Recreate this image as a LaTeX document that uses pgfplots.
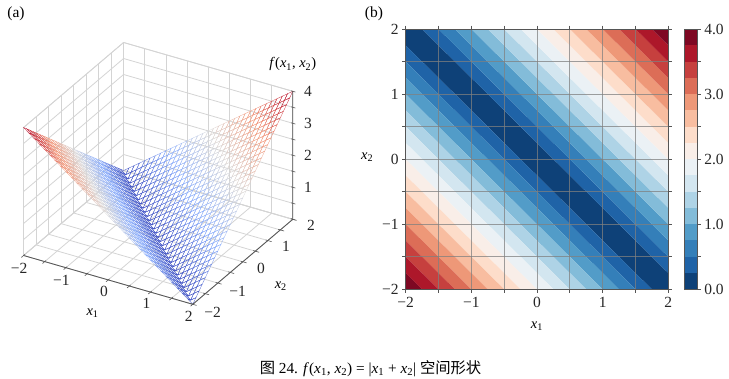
\documentclass[border=0pt]{standalone}
\usepackage{pgfplots}
\pgfplotsset{compat=1.18}
\usepackage{fontspec}
\setmainfont{Liberation Serif}
\newfontfamily\cjk{Noto Sans CJK SC}
\newcommand\xa{\textit{x}\textsubscript{1}}
\newcommand\xb{\textit{x}\textsubscript{2}}
\definecolor{axd}{HTML}{555555}
\definecolor{c0}{RGB}{14,65,120}
\definecolor{c1}{RGB}{31,99,167}
\definecolor{c2}{RGB}{52,127,185}
\definecolor{c3}{RGB}{82,156,200}
\definecolor{c4}{RGB}{131,188,217}
\definecolor{c5}{RGB}{174,211,230}
\definecolor{c6}{RGB}{211,230,240}
\definecolor{c7}{RGB}{235,241,245}
\definecolor{c8}{RGB}{249,238,232}
\definecolor{c9}{RGB}{253,221,202}
\definecolor{c10}{RGB}{248,189,160}
\definecolor{c11}{RGB}{238,152,120}
\definecolor{c12}{RGB}{220,109,87}
\definecolor{c13}{RGB}{198,64,62}
\definecolor{c14}{RGB}{173,23,42}
\definecolor{c15}{RGB}{126,8,35}
\begin{document}
\begin{tikzpicture}[x=1pt,y=1pt]
\path[use as bounding box] (0,0) rectangle (729,378);
\begin{axis}[
 at={(158.2pt,140.6pt)},anchor=origin,
 x={(42.3pt,-12.2pt)},y={(25pt,21.25pt)},z={(0pt,32pt)},
 xmin=-2,xmax=2,ymin=-2,ymax=2,zmin=0,zmax=4,
 xtick={-2,-1.5,...,2},ytick={-2,-1.5,...,2},ztick={0,0.5,...,4},
 xticklabels={−2,,−1,,0,,1,,2},yticklabels={−2,,−1,,0,,1,,2},zticklabels={,,1,,2,,3,,4},
 xtick pos=left,ytick pos=left,ztick pos=right,
 zticklabel pos=right,
 grid=major,grid style={color=black!17,line width=.8pt},
 axis line style={color=black!17,line width=.8pt},
 tick style={draw=none},major tick length=3.5pt,tick align=outside,
 tick label style={font=\fontsize{15.5}{15.5}\selectfont,color=black!85},
 xticklabel style={xshift=3pt},
 yticklabel style={xshift=8pt,yshift=4pt},
 zticklabel style={xshift=5pt,yshift=-4pt},
 xlabel={\xa},ylabel={\xb},zlabel={\textit{f}(\xa, \xb)},
 every axis x label/.style={at={(axis cs:-0.3,-2,0)},anchor=center,yshift=-37pt,xshift=-3pt,font=\fontsize{14.5}{14.5}\selectfont},
 every axis y label/.style={at={(axis cs:2,0,0)},anchor=center,xshift=38pt,yshift=-24pt,font=\fontsize{14.5}{14.5}\selectfont},
 every axis z label/.style={at={(axis cs:2,2,4)},anchor=center,yshift=27pt,font=\fontsize{14.5}{14.5}\selectfont},
 colormap={coolwarm}{rgb255=(59,76,192) rgb255=(139,174,253) rgb255=(221,220,220) rgb255=(244,152,122) rgb255=(180,4,38)},
 clip=false,
]
\addplot3[mesh,mesh/rows=33,mesh/cols=33,point meta=z,line width=.3pt,forget plot] table {
-2 -2 4
-1.875 -2 3.875
-1.75 -2 3.75
-1.625 -2 3.625
-1.5 -2 3.5
-1.375 -2 3.375
-1.25 -2 3.25
-1.125 -2 3.125
-1 -2 3
-0.875 -2 2.875
-0.75 -2 2.75
-0.625 -2 2.625
-0.5 -2 2.5
-0.375 -2 2.375
-0.25 -2 2.25
-0.125 -2 2.125
0 -2 2
0.125 -2 1.875
0.25 -2 1.75
0.375 -2 1.625
0.5 -2 1.5
0.625 -2 1.375
0.75 -2 1.25
0.875 -2 1.125
1 -2 1
1.125 -2 0.875
1.25 -2 0.75
1.375 -2 0.625
1.5 -2 0.5
1.625 -2 0.375
1.75 -2 0.25
1.875 -2 0.125
2 -2 0
-2 -1.875 3.875
-1.875 -1.875 3.75
-1.75 -1.875 3.625
-1.625 -1.875 3.5
-1.5 -1.875 3.375
-1.375 -1.875 3.25
-1.25 -1.875 3.125
-1.125 -1.875 3
-1 -1.875 2.875
-0.875 -1.875 2.75
-0.75 -1.875 2.625
-0.625 -1.875 2.5
-0.5 -1.875 2.375
-0.375 -1.875 2.25
-0.25 -1.875 2.125
-0.125 -1.875 2
0 -1.875 1.875
0.125 -1.875 1.75
0.25 -1.875 1.625
0.375 -1.875 1.5
0.5 -1.875 1.375
0.625 -1.875 1.25
0.75 -1.875 1.125
0.875 -1.875 1
1 -1.875 0.875
1.125 -1.875 0.75
1.25 -1.875 0.625
1.375 -1.875 0.5
1.5 -1.875 0.375
1.625 -1.875 0.25
1.75 -1.875 0.125
1.875 -1.875 0
2 -1.875 0.125
-2 -1.75 3.75
-1.875 -1.75 3.625
-1.75 -1.75 3.5
-1.625 -1.75 3.375
-1.5 -1.75 3.25
-1.375 -1.75 3.125
-1.25 -1.75 3
-1.125 -1.75 2.875
-1 -1.75 2.75
-0.875 -1.75 2.625
-0.75 -1.75 2.5
-0.625 -1.75 2.375
-0.5 -1.75 2.25
-0.375 -1.75 2.125
-0.25 -1.75 2
-0.125 -1.75 1.875
0 -1.75 1.75
0.125 -1.75 1.625
0.25 -1.75 1.5
0.375 -1.75 1.375
0.5 -1.75 1.25
0.625 -1.75 1.125
0.75 -1.75 1
0.875 -1.75 0.875
1 -1.75 0.75
1.125 -1.75 0.625
1.25 -1.75 0.5
1.375 -1.75 0.375
1.5 -1.75 0.25
1.625 -1.75 0.125
1.75 -1.75 0
1.875 -1.75 0.125
2 -1.75 0.25
-2 -1.625 3.625
-1.875 -1.625 3.5
-1.75 -1.625 3.375
-1.625 -1.625 3.25
-1.5 -1.625 3.125
-1.375 -1.625 3
-1.25 -1.625 2.875
-1.125 -1.625 2.75
-1 -1.625 2.625
-0.875 -1.625 2.5
-0.75 -1.625 2.375
-0.625 -1.625 2.25
-0.5 -1.625 2.125
-0.375 -1.625 2
-0.25 -1.625 1.875
-0.125 -1.625 1.75
0 -1.625 1.625
0.125 -1.625 1.5
0.25 -1.625 1.375
0.375 -1.625 1.25
0.5 -1.625 1.125
0.625 -1.625 1
0.75 -1.625 0.875
0.875 -1.625 0.75
1 -1.625 0.625
1.125 -1.625 0.5
1.25 -1.625 0.375
1.375 -1.625 0.25
1.5 -1.625 0.125
1.625 -1.625 0
1.75 -1.625 0.125
1.875 -1.625 0.25
2 -1.625 0.375
-2 -1.5 3.5
-1.875 -1.5 3.375
-1.75 -1.5 3.25
-1.625 -1.5 3.125
-1.5 -1.5 3
-1.375 -1.5 2.875
-1.25 -1.5 2.75
-1.125 -1.5 2.625
-1 -1.5 2.5
-0.875 -1.5 2.375
-0.75 -1.5 2.25
-0.625 -1.5 2.125
-0.5 -1.5 2
-0.375 -1.5 1.875
-0.25 -1.5 1.75
-0.125 -1.5 1.625
0 -1.5 1.5
0.125 -1.5 1.375
0.25 -1.5 1.25
0.375 -1.5 1.125
0.5 -1.5 1
0.625 -1.5 0.875
0.75 -1.5 0.75
0.875 -1.5 0.625
1 -1.5 0.5
1.125 -1.5 0.375
1.25 -1.5 0.25
1.375 -1.5 0.125
1.5 -1.5 0
1.625 -1.5 0.125
1.75 -1.5 0.25
1.875 -1.5 0.375
2 -1.5 0.5
-2 -1.375 3.375
-1.875 -1.375 3.25
-1.75 -1.375 3.125
-1.625 -1.375 3
-1.5 -1.375 2.875
-1.375 -1.375 2.75
-1.25 -1.375 2.625
-1.125 -1.375 2.5
-1 -1.375 2.375
-0.875 -1.375 2.25
-0.75 -1.375 2.125
-0.625 -1.375 2
-0.5 -1.375 1.875
-0.375 -1.375 1.75
-0.25 -1.375 1.625
-0.125 -1.375 1.5
0 -1.375 1.375
0.125 -1.375 1.25
0.25 -1.375 1.125
0.375 -1.375 1
0.5 -1.375 0.875
0.625 -1.375 0.75
0.75 -1.375 0.625
0.875 -1.375 0.5
1 -1.375 0.375
1.125 -1.375 0.25
1.25 -1.375 0.125
1.375 -1.375 0
1.5 -1.375 0.125
1.625 -1.375 0.25
1.75 -1.375 0.375
1.875 -1.375 0.5
2 -1.375 0.625
-2 -1.25 3.25
-1.875 -1.25 3.125
-1.75 -1.25 3
-1.625 -1.25 2.875
-1.5 -1.25 2.75
-1.375 -1.25 2.625
-1.25 -1.25 2.5
-1.125 -1.25 2.375
-1 -1.25 2.25
-0.875 -1.25 2.125
-0.75 -1.25 2
-0.625 -1.25 1.875
-0.5 -1.25 1.75
-0.375 -1.25 1.625
-0.25 -1.25 1.5
-0.125 -1.25 1.375
0 -1.25 1.25
0.125 -1.25 1.125
0.25 -1.25 1
0.375 -1.25 0.875
0.5 -1.25 0.75
0.625 -1.25 0.625
0.75 -1.25 0.5
0.875 -1.25 0.375
1 -1.25 0.25
1.125 -1.25 0.125
1.25 -1.25 0
1.375 -1.25 0.125
1.5 -1.25 0.25
1.625 -1.25 0.375
1.75 -1.25 0.5
1.875 -1.25 0.625
2 -1.25 0.75
-2 -1.125 3.125
-1.875 -1.125 3
-1.75 -1.125 2.875
-1.625 -1.125 2.75
-1.5 -1.125 2.625
-1.375 -1.125 2.5
-1.25 -1.125 2.375
-1.125 -1.125 2.25
-1 -1.125 2.125
-0.875 -1.125 2
-0.75 -1.125 1.875
-0.625 -1.125 1.75
-0.5 -1.125 1.625
-0.375 -1.125 1.5
-0.25 -1.125 1.375
-0.125 -1.125 1.25
0 -1.125 1.125
0.125 -1.125 1
0.25 -1.125 0.875
0.375 -1.125 0.75
0.5 -1.125 0.625
0.625 -1.125 0.5
0.75 -1.125 0.375
0.875 -1.125 0.25
1 -1.125 0.125
1.125 -1.125 0
1.25 -1.125 0.125
1.375 -1.125 0.25
1.5 -1.125 0.375
1.625 -1.125 0.5
1.75 -1.125 0.625
1.875 -1.125 0.75
2 -1.125 0.875
-2 -1 3
-1.875 -1 2.875
-1.75 -1 2.75
-1.625 -1 2.625
-1.5 -1 2.5
-1.375 -1 2.375
-1.25 -1 2.25
-1.125 -1 2.125
-1 -1 2
-0.875 -1 1.875
-0.75 -1 1.75
-0.625 -1 1.625
-0.5 -1 1.5
-0.375 -1 1.375
-0.25 -1 1.25
-0.125 -1 1.125
0 -1 1
0.125 -1 0.875
0.25 -1 0.75
0.375 -1 0.625
0.5 -1 0.5
0.625 -1 0.375
0.75 -1 0.25
0.875 -1 0.125
1 -1 0
1.125 -1 0.125
1.25 -1 0.25
1.375 -1 0.375
1.5 -1 0.5
1.625 -1 0.625
1.75 -1 0.75
1.875 -1 0.875
2 -1 1
-2 -0.875 2.875
-1.875 -0.875 2.75
-1.75 -0.875 2.625
-1.625 -0.875 2.5
-1.5 -0.875 2.375
-1.375 -0.875 2.25
-1.25 -0.875 2.125
-1.125 -0.875 2
-1 -0.875 1.875
-0.875 -0.875 1.75
-0.75 -0.875 1.625
-0.625 -0.875 1.5
-0.5 -0.875 1.375
-0.375 -0.875 1.25
-0.25 -0.875 1.125
-0.125 -0.875 1
0 -0.875 0.875
0.125 -0.875 0.75
0.25 -0.875 0.625
0.375 -0.875 0.5
0.5 -0.875 0.375
0.625 -0.875 0.25
0.75 -0.875 0.125
0.875 -0.875 0
1 -0.875 0.125
1.125 -0.875 0.25
1.25 -0.875 0.375
1.375 -0.875 0.5
1.5 -0.875 0.625
1.625 -0.875 0.75
1.75 -0.875 0.875
1.875 -0.875 1
2 -0.875 1.125
-2 -0.75 2.75
-1.875 -0.75 2.625
-1.75 -0.75 2.5
-1.625 -0.75 2.375
-1.5 -0.75 2.25
-1.375 -0.75 2.125
-1.25 -0.75 2
-1.125 -0.75 1.875
-1 -0.75 1.75
-0.875 -0.75 1.625
-0.75 -0.75 1.5
-0.625 -0.75 1.375
-0.5 -0.75 1.25
-0.375 -0.75 1.125
-0.25 -0.75 1
-0.125 -0.75 0.875
0 -0.75 0.75
0.125 -0.75 0.625
0.25 -0.75 0.5
0.375 -0.75 0.375
0.5 -0.75 0.25
0.625 -0.75 0.125
0.75 -0.75 0
0.875 -0.75 0.125
1 -0.75 0.25
1.125 -0.75 0.375
1.25 -0.75 0.5
1.375 -0.75 0.625
1.5 -0.75 0.75
1.625 -0.75 0.875
1.75 -0.75 1
1.875 -0.75 1.125
2 -0.75 1.25
-2 -0.625 2.625
-1.875 -0.625 2.5
-1.75 -0.625 2.375
-1.625 -0.625 2.25
-1.5 -0.625 2.125
-1.375 -0.625 2
-1.25 -0.625 1.875
-1.125 -0.625 1.75
-1 -0.625 1.625
-0.875 -0.625 1.5
-0.75 -0.625 1.375
-0.625 -0.625 1.25
-0.5 -0.625 1.125
-0.375 -0.625 1
-0.25 -0.625 0.875
-0.125 -0.625 0.75
0 -0.625 0.625
0.125 -0.625 0.5
0.25 -0.625 0.375
0.375 -0.625 0.25
0.5 -0.625 0.125
0.625 -0.625 0
0.75 -0.625 0.125
0.875 -0.625 0.25
1 -0.625 0.375
1.125 -0.625 0.5
1.25 -0.625 0.625
1.375 -0.625 0.75
1.5 -0.625 0.875
1.625 -0.625 1
1.75 -0.625 1.125
1.875 -0.625 1.25
2 -0.625 1.375
-2 -0.5 2.5
-1.875 -0.5 2.375
-1.75 -0.5 2.25
-1.625 -0.5 2.125
-1.5 -0.5 2
-1.375 -0.5 1.875
-1.25 -0.5 1.75
-1.125 -0.5 1.625
-1 -0.5 1.5
-0.875 -0.5 1.375
-0.75 -0.5 1.25
-0.625 -0.5 1.125
-0.5 -0.5 1
-0.375 -0.5 0.875
-0.25 -0.5 0.75
-0.125 -0.5 0.625
0 -0.5 0.5
0.125 -0.5 0.375
0.25 -0.5 0.25
0.375 -0.5 0.125
0.5 -0.5 0
0.625 -0.5 0.125
0.75 -0.5 0.25
0.875 -0.5 0.375
1 -0.5 0.5
1.125 -0.5 0.625
1.25 -0.5 0.75
1.375 -0.5 0.875
1.5 -0.5 1
1.625 -0.5 1.125
1.75 -0.5 1.25
1.875 -0.5 1.375
2 -0.5 1.5
-2 -0.375 2.375
-1.875 -0.375 2.25
-1.75 -0.375 2.125
-1.625 -0.375 2
-1.5 -0.375 1.875
-1.375 -0.375 1.75
-1.25 -0.375 1.625
-1.125 -0.375 1.5
-1 -0.375 1.375
-0.875 -0.375 1.25
-0.75 -0.375 1.125
-0.625 -0.375 1
-0.5 -0.375 0.875
-0.375 -0.375 0.75
-0.25 -0.375 0.625
-0.125 -0.375 0.5
0 -0.375 0.375
0.125 -0.375 0.25
0.25 -0.375 0.125
0.375 -0.375 0
0.5 -0.375 0.125
0.625 -0.375 0.25
0.75 -0.375 0.375
0.875 -0.375 0.5
1 -0.375 0.625
1.125 -0.375 0.75
1.25 -0.375 0.875
1.375 -0.375 1
1.5 -0.375 1.125
1.625 -0.375 1.25
1.75 -0.375 1.375
1.875 -0.375 1.5
2 -0.375 1.625
-2 -0.25 2.25
-1.875 -0.25 2.125
-1.75 -0.25 2
-1.625 -0.25 1.875
-1.5 -0.25 1.75
-1.375 -0.25 1.625
-1.25 -0.25 1.5
-1.125 -0.25 1.375
-1 -0.25 1.25
-0.875 -0.25 1.125
-0.75 -0.25 1
-0.625 -0.25 0.875
-0.5 -0.25 0.75
-0.375 -0.25 0.625
-0.25 -0.25 0.5
-0.125 -0.25 0.375
0 -0.25 0.25
0.125 -0.25 0.125
0.25 -0.25 0
0.375 -0.25 0.125
0.5 -0.25 0.25
0.625 -0.25 0.375
0.75 -0.25 0.5
0.875 -0.25 0.625
1 -0.25 0.75
1.125 -0.25 0.875
1.25 -0.25 1
1.375 -0.25 1.125
1.5 -0.25 1.25
1.625 -0.25 1.375
1.75 -0.25 1.5
1.875 -0.25 1.625
2 -0.25 1.75
-2 -0.125 2.125
-1.875 -0.125 2
-1.75 -0.125 1.875
-1.625 -0.125 1.75
-1.5 -0.125 1.625
-1.375 -0.125 1.5
-1.25 -0.125 1.375
-1.125 -0.125 1.25
-1 -0.125 1.125
-0.875 -0.125 1
-0.75 -0.125 0.875
-0.625 -0.125 0.75
-0.5 -0.125 0.625
-0.375 -0.125 0.5
-0.25 -0.125 0.375
-0.125 -0.125 0.25
0 -0.125 0.125
0.125 -0.125 0
0.25 -0.125 0.125
0.375 -0.125 0.25
0.5 -0.125 0.375
0.625 -0.125 0.5
0.75 -0.125 0.625
0.875 -0.125 0.75
1 -0.125 0.875
1.125 -0.125 1
1.25 -0.125 1.125
1.375 -0.125 1.25
1.5 -0.125 1.375
1.625 -0.125 1.5
1.75 -0.125 1.625
1.875 -0.125 1.75
2 -0.125 1.875
-2 0 2
-1.875 0 1.875
-1.75 0 1.75
-1.625 0 1.625
-1.5 0 1.5
-1.375 0 1.375
-1.25 0 1.25
-1.125 0 1.125
-1 0 1
-0.875 0 0.875
-0.75 0 0.75
-0.625 0 0.625
-0.5 0 0.5
-0.375 0 0.375
-0.25 0 0.25
-0.125 0 0.125
0 0 0
0.125 0 0.125
0.25 0 0.25
0.375 0 0.375
0.5 0 0.5
0.625 0 0.625
0.75 0 0.75
0.875 0 0.875
1 0 1
1.125 0 1.125
1.25 0 1.25
1.375 0 1.375
1.5 0 1.5
1.625 0 1.625
1.75 0 1.75
1.875 0 1.875
2 0 2
-2 0.125 1.875
-1.875 0.125 1.75
-1.75 0.125 1.625
-1.625 0.125 1.5
-1.5 0.125 1.375
-1.375 0.125 1.25
-1.25 0.125 1.125
-1.125 0.125 1
-1 0.125 0.875
-0.875 0.125 0.75
-0.75 0.125 0.625
-0.625 0.125 0.5
-0.5 0.125 0.375
-0.375 0.125 0.25
-0.25 0.125 0.125
-0.125 0.125 0
0 0.125 0.125
0.125 0.125 0.25
0.25 0.125 0.375
0.375 0.125 0.5
0.5 0.125 0.625
0.625 0.125 0.75
0.75 0.125 0.875
0.875 0.125 1
1 0.125 1.125
1.125 0.125 1.25
1.25 0.125 1.375
1.375 0.125 1.5
1.5 0.125 1.625
1.625 0.125 1.75
1.75 0.125 1.875
1.875 0.125 2
2 0.125 2.125
-2 0.25 1.75
-1.875 0.25 1.625
-1.75 0.25 1.5
-1.625 0.25 1.375
-1.5 0.25 1.25
-1.375 0.25 1.125
-1.25 0.25 1
-1.125 0.25 0.875
-1 0.25 0.75
-0.875 0.25 0.625
-0.75 0.25 0.5
-0.625 0.25 0.375
-0.5 0.25 0.25
-0.375 0.25 0.125
-0.25 0.25 0
-0.125 0.25 0.125
0 0.25 0.25
0.125 0.25 0.375
0.25 0.25 0.5
0.375 0.25 0.625
0.5 0.25 0.75
0.625 0.25 0.875
0.75 0.25 1
0.875 0.25 1.125
1 0.25 1.25
1.125 0.25 1.375
1.25 0.25 1.5
1.375 0.25 1.625
1.5 0.25 1.75
1.625 0.25 1.875
1.75 0.25 2
1.875 0.25 2.125
2 0.25 2.25
-2 0.375 1.625
-1.875 0.375 1.5
-1.75 0.375 1.375
-1.625 0.375 1.25
-1.5 0.375 1.125
-1.375 0.375 1
-1.25 0.375 0.875
-1.125 0.375 0.75
-1 0.375 0.625
-0.875 0.375 0.5
-0.75 0.375 0.375
-0.625 0.375 0.25
-0.5 0.375 0.125
-0.375 0.375 0
-0.25 0.375 0.125
-0.125 0.375 0.25
0 0.375 0.375
0.125 0.375 0.5
0.25 0.375 0.625
0.375 0.375 0.75
0.5 0.375 0.875
0.625 0.375 1
0.75 0.375 1.125
0.875 0.375 1.25
1 0.375 1.375
1.125 0.375 1.5
1.25 0.375 1.625
1.375 0.375 1.75
1.5 0.375 1.875
1.625 0.375 2
1.75 0.375 2.125
1.875 0.375 2.25
2 0.375 2.375
-2 0.5 1.5
-1.875 0.5 1.375
-1.75 0.5 1.25
-1.625 0.5 1.125
-1.5 0.5 1
-1.375 0.5 0.875
-1.25 0.5 0.75
-1.125 0.5 0.625
-1 0.5 0.5
-0.875 0.5 0.375
-0.75 0.5 0.25
-0.625 0.5 0.125
-0.5 0.5 0
-0.375 0.5 0.125
-0.25 0.5 0.25
-0.125 0.5 0.375
0 0.5 0.5
0.125 0.5 0.625
0.25 0.5 0.75
0.375 0.5 0.875
0.5 0.5 1
0.625 0.5 1.125
0.75 0.5 1.25
0.875 0.5 1.375
1 0.5 1.5
1.125 0.5 1.625
1.25 0.5 1.75
1.375 0.5 1.875
1.5 0.5 2
1.625 0.5 2.125
1.75 0.5 2.25
1.875 0.5 2.375
2 0.5 2.5
-2 0.625 1.375
-1.875 0.625 1.25
-1.75 0.625 1.125
-1.625 0.625 1
-1.5 0.625 0.875
-1.375 0.625 0.75
-1.25 0.625 0.625
-1.125 0.625 0.5
-1 0.625 0.375
-0.875 0.625 0.25
-0.75 0.625 0.125
-0.625 0.625 0
-0.5 0.625 0.125
-0.375 0.625 0.25
-0.25 0.625 0.375
-0.125 0.625 0.5
0 0.625 0.625
0.125 0.625 0.75
0.25 0.625 0.875
0.375 0.625 1
0.5 0.625 1.125
0.625 0.625 1.25
0.75 0.625 1.375
0.875 0.625 1.5
1 0.625 1.625
1.125 0.625 1.75
1.25 0.625 1.875
1.375 0.625 2
1.5 0.625 2.125
1.625 0.625 2.25
1.75 0.625 2.375
1.875 0.625 2.5
2 0.625 2.625
-2 0.75 1.25
-1.875 0.75 1.125
-1.75 0.75 1
-1.625 0.75 0.875
-1.5 0.75 0.75
-1.375 0.75 0.625
-1.25 0.75 0.5
-1.125 0.75 0.375
-1 0.75 0.25
-0.875 0.75 0.125
-0.75 0.75 0
-0.625 0.75 0.125
-0.5 0.75 0.25
-0.375 0.75 0.375
-0.25 0.75 0.5
-0.125 0.75 0.625
0 0.75 0.75
0.125 0.75 0.875
0.25 0.75 1
0.375 0.75 1.125
0.5 0.75 1.25
0.625 0.75 1.375
0.75 0.75 1.5
0.875 0.75 1.625
1 0.75 1.75
1.125 0.75 1.875
1.25 0.75 2
1.375 0.75 2.125
1.5 0.75 2.25
1.625 0.75 2.375
1.75 0.75 2.5
1.875 0.75 2.625
2 0.75 2.75
-2 0.875 1.125
-1.875 0.875 1
-1.75 0.875 0.875
-1.625 0.875 0.75
-1.5 0.875 0.625
-1.375 0.875 0.5
-1.25 0.875 0.375
-1.125 0.875 0.25
-1 0.875 0.125
-0.875 0.875 0
-0.75 0.875 0.125
-0.625 0.875 0.25
-0.5 0.875 0.375
-0.375 0.875 0.5
-0.25 0.875 0.625
-0.125 0.875 0.75
0 0.875 0.875
0.125 0.875 1
0.25 0.875 1.125
0.375 0.875 1.25
0.5 0.875 1.375
0.625 0.875 1.5
0.75 0.875 1.625
0.875 0.875 1.75
1 0.875 1.875
1.125 0.875 2
1.25 0.875 2.125
1.375 0.875 2.25
1.5 0.875 2.375
1.625 0.875 2.5
1.75 0.875 2.625
1.875 0.875 2.75
2 0.875 2.875
-2 1 1
-1.875 1 0.875
-1.75 1 0.75
-1.625 1 0.625
-1.5 1 0.5
-1.375 1 0.375
-1.25 1 0.25
-1.125 1 0.125
-1 1 0
-0.875 1 0.125
-0.75 1 0.25
-0.625 1 0.375
-0.5 1 0.5
-0.375 1 0.625
-0.25 1 0.75
-0.125 1 0.875
0 1 1
0.125 1 1.125
0.25 1 1.25
0.375 1 1.375
0.5 1 1.5
0.625 1 1.625
0.75 1 1.75
0.875 1 1.875
1 1 2
1.125 1 2.125
1.25 1 2.25
1.375 1 2.375
1.5 1 2.5
1.625 1 2.625
1.75 1 2.75
1.875 1 2.875
2 1 3
-2 1.125 0.875
-1.875 1.125 0.75
-1.75 1.125 0.625
-1.625 1.125 0.5
-1.5 1.125 0.375
-1.375 1.125 0.25
-1.25 1.125 0.125
-1.125 1.125 0
-1 1.125 0.125
-0.875 1.125 0.25
-0.75 1.125 0.375
-0.625 1.125 0.5
-0.5 1.125 0.625
-0.375 1.125 0.75
-0.25 1.125 0.875
-0.125 1.125 1
0 1.125 1.125
0.125 1.125 1.25
0.25 1.125 1.375
0.375 1.125 1.5
0.5 1.125 1.625
0.625 1.125 1.75
0.75 1.125 1.875
0.875 1.125 2
1 1.125 2.125
1.125 1.125 2.25
1.25 1.125 2.375
1.375 1.125 2.5
1.5 1.125 2.625
1.625 1.125 2.75
1.75 1.125 2.875
1.875 1.125 3
2 1.125 3.125
-2 1.25 0.75
-1.875 1.25 0.625
-1.75 1.25 0.5
-1.625 1.25 0.375
-1.5 1.25 0.25
-1.375 1.25 0.125
-1.25 1.25 0
-1.125 1.25 0.125
-1 1.25 0.25
-0.875 1.25 0.375
-0.75 1.25 0.5
-0.625 1.25 0.625
-0.5 1.25 0.75
-0.375 1.25 0.875
-0.25 1.25 1
-0.125 1.25 1.125
0 1.25 1.25
0.125 1.25 1.375
0.25 1.25 1.5
0.375 1.25 1.625
0.5 1.25 1.75
0.625 1.25 1.875
0.75 1.25 2
0.875 1.25 2.125
1 1.25 2.25
1.125 1.25 2.375
1.25 1.25 2.5
1.375 1.25 2.625
1.5 1.25 2.75
1.625 1.25 2.875
1.75 1.25 3
1.875 1.25 3.125
2 1.25 3.25
-2 1.375 0.625
-1.875 1.375 0.5
-1.75 1.375 0.375
-1.625 1.375 0.25
-1.5 1.375 0.125
-1.375 1.375 0
-1.25 1.375 0.125
-1.125 1.375 0.25
-1 1.375 0.375
-0.875 1.375 0.5
-0.75 1.375 0.625
-0.625 1.375 0.75
-0.5 1.375 0.875
-0.375 1.375 1
-0.25 1.375 1.125
-0.125 1.375 1.25
0 1.375 1.375
0.125 1.375 1.5
0.25 1.375 1.625
0.375 1.375 1.75
0.5 1.375 1.875
0.625 1.375 2
0.75 1.375 2.125
0.875 1.375 2.25
1 1.375 2.375
1.125 1.375 2.5
1.25 1.375 2.625
1.375 1.375 2.75
1.5 1.375 2.875
1.625 1.375 3
1.75 1.375 3.125
1.875 1.375 3.25
2 1.375 3.375
-2 1.5 0.5
-1.875 1.5 0.375
-1.75 1.5 0.25
-1.625 1.5 0.125
-1.5 1.5 0
-1.375 1.5 0.125
-1.25 1.5 0.25
-1.125 1.5 0.375
-1 1.5 0.5
-0.875 1.5 0.625
-0.75 1.5 0.75
-0.625 1.5 0.875
-0.5 1.5 1
-0.375 1.5 1.125
-0.25 1.5 1.25
-0.125 1.5 1.375
0 1.5 1.5
0.125 1.5 1.625
0.25 1.5 1.75
0.375 1.5 1.875
0.5 1.5 2
0.625 1.5 2.125
0.75 1.5 2.25
0.875 1.5 2.375
1 1.5 2.5
1.125 1.5 2.625
1.25 1.5 2.75
1.375 1.5 2.875
1.5 1.5 3
1.625 1.5 3.125
1.75 1.5 3.25
1.875 1.5 3.375
2 1.5 3.5
-2 1.625 0.375
-1.875 1.625 0.25
-1.75 1.625 0.125
-1.625 1.625 0
-1.5 1.625 0.125
-1.375 1.625 0.25
-1.25 1.625 0.375
-1.125 1.625 0.5
-1 1.625 0.625
-0.875 1.625 0.75
-0.75 1.625 0.875
-0.625 1.625 1
-0.5 1.625 1.125
-0.375 1.625 1.25
-0.25 1.625 1.375
-0.125 1.625 1.5
0 1.625 1.625
0.125 1.625 1.75
0.25 1.625 1.875
0.375 1.625 2
0.5 1.625 2.125
0.625 1.625 2.25
0.75 1.625 2.375
0.875 1.625 2.5
1 1.625 2.625
1.125 1.625 2.75
1.25 1.625 2.875
1.375 1.625 3
1.5 1.625 3.125
1.625 1.625 3.25
1.75 1.625 3.375
1.875 1.625 3.5
2 1.625 3.625
-2 1.75 0.25
-1.875 1.75 0.125
-1.75 1.75 0
-1.625 1.75 0.125
-1.5 1.75 0.25
-1.375 1.75 0.375
-1.25 1.75 0.5
-1.125 1.75 0.625
-1 1.75 0.75
-0.875 1.75 0.875
-0.75 1.75 1
-0.625 1.75 1.125
-0.5 1.75 1.25
-0.375 1.75 1.375
-0.25 1.75 1.5
-0.125 1.75 1.625
0 1.75 1.75
0.125 1.75 1.875
0.25 1.75 2
0.375 1.75 2.125
0.5 1.75 2.25
0.625 1.75 2.375
0.75 1.75 2.5
0.875 1.75 2.625
1 1.75 2.75
1.125 1.75 2.875
1.25 1.75 3
1.375 1.75 3.125
1.5 1.75 3.25
1.625 1.75 3.375
1.75 1.75 3.5
1.875 1.75 3.625
2 1.75 3.75
-2 1.875 0.125
-1.875 1.875 0
-1.75 1.875 0.125
-1.625 1.875 0.25
-1.5 1.875 0.375
-1.375 1.875 0.5
-1.25 1.875 0.625
-1.125 1.875 0.75
-1 1.875 0.875
-0.875 1.875 1
-0.75 1.875 1.125
-0.625 1.875 1.25
-0.5 1.875 1.375
-0.375 1.875 1.5
-0.25 1.875 1.625
-0.125 1.875 1.75
0 1.875 1.875
0.125 1.875 2
0.25 1.875 2.125
0.375 1.875 2.25
0.5 1.875 2.375
0.625 1.875 2.5
0.75 1.875 2.625
0.875 1.875 2.75
1 1.875 2.875
1.125 1.875 3
1.25 1.875 3.125
1.375 1.875 3.25
1.5 1.875 3.375
1.625 1.875 3.5
1.75 1.875 3.625
1.875 1.875 3.75
2 1.875 3.875
-2 2 0
-1.875 2 0.125
-1.75 2 0.25
-1.625 2 0.375
-1.5 2 0.5
-1.375 2 0.625
-1.25 2 0.75
-1.125 2 0.875
-1 2 1
-0.875 2 1.125
-0.75 2 1.25
-0.625 2 1.375
-0.5 2 1.5
-0.375 2 1.625
-0.25 2 1.75
-0.125 2 1.875
0 2 2
0.125 2 2.125
0.25 2 2.25
0.375 2 2.375
0.5 2 2.5
0.625 2 2.625
0.75 2 2.75
0.875 2 2.875
1 2 3
1.125 2 3.125
1.25 2 3.25
1.375 2 3.375
1.5 2 3.5
1.625 2 3.625
1.75 2 3.75
1.875 2 3.875
2 2 4
};
\draw[axd,line width=.8pt] (axis cs:-2,-2,0)--(axis cs:2,-2,0)--(axis cs:2,2,0)--(axis cs:2,2,4);
\pgfplotsinvokeforeach{-2,-1.5,-1,-0.5,0,0.5,1,1.5,2}{
 \draw[axd,line width=.6pt] (axis cs:#1,-2.09,0)--(axis cs:#1,-1.95,0);
 \draw[axd,line width=.6pt] (axis cs:1.95,#1,0)--(axis cs:2.09,#1,0);
}
\pgfplotsinvokeforeach{0,0.5,1,1.5,2,2.5,3,3.5,4}{
 \draw[axd,line width=.6pt] (axis cs:1.96,2,#1)--(axis cs:2.06,2,#1);
}
\end{axis}
\begin{axis}[
 at={(405.6pt,88.7pt)},anchor=south west,scale only axis,width=262.7pt,height=260.3pt,
 xmin=-2,xmax=2,ymin=-2,ymax=2,
 xtick={-2,-1.5,...,2},ytick={-2,-1.5,...,2},
 xticklabels={−2,,−1,,0,,1,,2},yticklabels={−2,,−1,,0,,1,,2},
 axis on top,grid=major,grid style={color=gray,opacity=.75,line width=.8pt},
 axis line style={color=axd,line width=.8pt},
 tick style={color=axd,line width=.6pt},major tick length=3.5pt,tick align=outside,
 tick label style={font=\fontsize{15.5}{15.5}\selectfont,color=black!85},
 xticklabel style={yshift=-1pt},
 xlabel={\xa},ylabel={\xb},
 xlabel style={font=\fontsize{14.5}{14.5}\selectfont,yshift=-7pt},
 ylabel style={font=\fontsize{14.5}{14.5}\selectfont,rotate=-90,xshift=-2pt,yshift=2pt},
]
\addplot[fill=c0,draw=none] coordinates {(-2,1.75)(1.75,-2)(2,-2)(2,-1.75)(-1.75,2)(-2,2)} --cycle;
\addplot[fill=c1,draw=none] coordinates {(-1.75,2)(2,-1.75)(2,-1.5)(-1.5,2)} --cycle;
\addplot[fill=c2,draw=none] coordinates {(-1.5,2)(2,-1.5)(2,-1.25)(-1.25,2)} --cycle;
\addplot[fill=c3,draw=none] coordinates {(-1.25,2)(2,-1.25)(2,-1)(-1,2)} --cycle;
\addplot[fill=c4,draw=none] coordinates {(-1,2)(2,-1)(2,-0.75)(-0.75,2)} --cycle;
\addplot[fill=c5,draw=none] coordinates {(-0.75,2)(2,-0.75)(2,-0.5)(-0.5,2)} --cycle;
\addplot[fill=c6,draw=none] coordinates {(-0.5,2)(2,-0.5)(2,-0.25)(-0.25,2)} --cycle;
\addplot[fill=c7,draw=none] coordinates {(-0.25,2)(2,-0.25)(2,0)(0,2)} --cycle;
\addplot[fill=c8,draw=none] coordinates {(0,2)(2,0)(2,0.25)(0.25,2)} --cycle;
\addplot[fill=c9,draw=none] coordinates {(0.25,2)(2,0.25)(2,0.5)(0.5,2)} --cycle;
\addplot[fill=c10,draw=none] coordinates {(0.5,2)(2,0.5)(2,0.75)(0.75,2)} --cycle;
\addplot[fill=c11,draw=none] coordinates {(0.75,2)(2,0.75)(2,1)(1,2)} --cycle;
\addplot[fill=c12,draw=none] coordinates {(1,2)(2,1)(2,1.25)(1.25,2)} --cycle;
\addplot[fill=c13,draw=none] coordinates {(1.25,2)(2,1.25)(2,1.5)(1.5,2)} --cycle;
\addplot[fill=c14,draw=none] coordinates {(1.5,2)(2,1.5)(2,1.75)(1.75,2)} --cycle;
\addplot[fill=c15,draw=none] coordinates {(1.75,2)(2,1.75)(2,2)} --cycle;
\addplot[fill=c1,draw=none] coordinates {(-2,1.75)(1.75,-2)(1.5,-2)(-2,1.5)} --cycle;
\addplot[fill=c2,draw=none] coordinates {(-2,1.5)(1.5,-2)(1.25,-2)(-2,1.25)} --cycle;
\addplot[fill=c3,draw=none] coordinates {(-2,1.25)(1.25,-2)(1,-2)(-2,1)} --cycle;
\addplot[fill=c4,draw=none] coordinates {(-2,1)(1,-2)(0.75,-2)(-2,0.75)} --cycle;
\addplot[fill=c5,draw=none] coordinates {(-2,0.75)(0.75,-2)(0.5,-2)(-2,0.5)} --cycle;
\addplot[fill=c6,draw=none] coordinates {(-2,0.5)(0.5,-2)(0.25,-2)(-2,0.25)} --cycle;
\addplot[fill=c7,draw=none] coordinates {(-2,0.25)(0.25,-2)(0,-2)(-2,0)} --cycle;
\addplot[fill=c8,draw=none] coordinates {(-2,0)(0,-2)(-0.25,-2)(-2,-0.25)} --cycle;
\addplot[fill=c9,draw=none] coordinates {(-2,-0.25)(-0.25,-2)(-0.5,-2)(-2,-0.5)} --cycle;
\addplot[fill=c10,draw=none] coordinates {(-2,-0.5)(-0.5,-2)(-0.75,-2)(-2,-0.75)} --cycle;
\addplot[fill=c11,draw=none] coordinates {(-2,-0.75)(-0.75,-2)(-1,-2)(-2,-1)} --cycle;
\addplot[fill=c12,draw=none] coordinates {(-2,-1)(-1,-2)(-1.25,-2)(-2,-1.25)} --cycle;
\addplot[fill=c13,draw=none] coordinates {(-2,-1.25)(-1.25,-2)(-1.5,-2)(-2,-1.5)} --cycle;
\addplot[fill=c14,draw=none] coordinates {(-2,-1.5)(-1.5,-2)(-1.75,-2)(-2,-1.75)} --cycle;
\addplot[fill=c15,draw=none] coordinates {(-2,-1.75)(-1.75,-2)(-2,-2)} --cycle;
\end{axis}
\begin{axis}[
 at={(684.3pt,88.7pt)},anchor=south west,scale only axis,width=13pt,height=260.3pt,
 xmin=0,xmax=1,ymin=0,ymax=4,xtick=\empty,
 ytick={0,0.5,...,4},yticklabels={0.0,,1.0,,2.0,,3.0,,4.0},ytick pos=right,yticklabel pos=right,
 axis on top,
 axis line style={color=axd,line width=.8pt},
 tick style={color=axd,line width=.6pt},major tick length=3.5pt,tick align=outside,
 tick label style={font=\fontsize{15.5}{15.5}\selectfont,color=black!85},
]
\addplot[fill=c0,draw=none] coordinates {(0,0)(1,0)(1,0.25)(0,0.25)} --cycle;
\addplot[fill=c1,draw=none] coordinates {(0,0.25)(1,0.25)(1,0.5)(0,0.5)} --cycle;
\addplot[fill=c2,draw=none] coordinates {(0,0.5)(1,0.5)(1,0.75)(0,0.75)} --cycle;
\addplot[fill=c3,draw=none] coordinates {(0,0.75)(1,0.75)(1,1)(0,1)} --cycle;
\addplot[fill=c4,draw=none] coordinates {(0,1)(1,1)(1,1.25)(0,1.25)} --cycle;
\addplot[fill=c5,draw=none] coordinates {(0,1.25)(1,1.25)(1,1.5)(0,1.5)} --cycle;
\addplot[fill=c6,draw=none] coordinates {(0,1.5)(1,1.5)(1,1.75)(0,1.75)} --cycle;
\addplot[fill=c7,draw=none] coordinates {(0,1.75)(1,1.75)(1,2)(0,2)} --cycle;
\addplot[fill=c8,draw=none] coordinates {(0,2)(1,2)(1,2.25)(0,2.25)} --cycle;
\addplot[fill=c9,draw=none] coordinates {(0,2.25)(1,2.25)(1,2.5)(0,2.5)} --cycle;
\addplot[fill=c10,draw=none] coordinates {(0,2.5)(1,2.5)(1,2.75)(0,2.75)} --cycle;
\addplot[fill=c11,draw=none] coordinates {(0,2.75)(1,2.75)(1,3)(0,3)} --cycle;
\addplot[fill=c12,draw=none] coordinates {(0,3)(1,3)(1,3.25)(0,3.25)} --cycle;
\addplot[fill=c13,draw=none] coordinates {(0,3.25)(1,3.25)(1,3.5)(0,3.5)} --cycle;
\addplot[fill=c14,draw=none] coordinates {(0,3.5)(1,3.5)(1,3.75)(0,3.75)} --cycle;
\addplot[fill=c15,draw=none] coordinates {(0,3.75)(1,3.75)(1,4)(0,4)} --cycle;
\end{axis}
\node[font=\fontsize{15.5}{15.5}\selectfont,anchor=center] at (16,364) {(a)};
\node[font=\fontsize{15.5}{15.5}\selectfont,anchor=center] at (374,364) {(b)};
\node[font=\fontsize{15.3}{15.3}\selectfont,anchor=center] at (370.5,9) {{\cjk 图} 24. \textit{f}(\xa, \xb) = |\xa{} + \xb| {\cjk 空间形状}};
\end{tikzpicture}
\end{document}
